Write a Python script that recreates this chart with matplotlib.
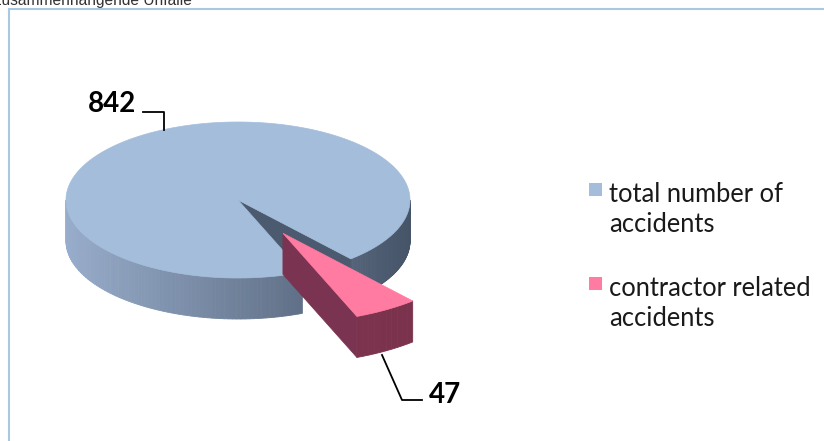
import numpy as np
import matplotlib
matplotlib.use("Agg")
import matplotlib.pyplot as plt
from matplotlib.patches import Polygon, Rectangle

# data
labels = [["total number of", "accidents"], ["contractor related", "accidents"]]
values = [842, 47]
top_colors = ["#a4bddb", "#ff7ba2"]

# pie geometry (pixel space, y pointing down)
cx, cy = 238, 200
a, b = 172, 78
depth = 41
start = 49.0           # where the small slice begins (clockwise from 3 o'clock)
explode = 0.5
explode_scale = 1.15


def arc(t0, t1, x0, y0, r=1.0, dz=0.0, n=120):
    t = np.radians(np.linspace(t0, t1, n))
    return np.column_stack([x0 + a * r * np.cos(t), y0 + b * r * np.sin(t) + dz])


def mix(c1, c2, t):
    c1 = np.array(c1) / 255.0
    c2 = np.array(c2) / 255.0
    return tuple(c1 + (c2 - c1) * t)


def wall(ax, t0, t1, x0, y0, r, light, dark, n=80):
    # outer cylinder wall split into thin strips for the shading
    ts = np.linspace(t0, t1, n + 1)
    for i in range(n):
        top = arc(ts[i], ts[i + 1], x0, y0, r, 0, 4)
        bot = arc(ts[i + 1], ts[i], x0, y0, r, depth, 4)
        tm = np.radians((ts[i] + ts[i + 1]) / 2)
        c = mix(light, dark, (np.cos(tm) + 1) / 2)
        ax.add_patch(Polygon(np.vstack([top, bot]), closed=True, fc=c, ec=c, lw=0.6))


fig = plt.figure(figsize=(8.24, 4.41), dpi=100)
ax = fig.add_axes([0, 0, 1, 1])
ax.set_xlim(0, 824)
ax.set_ylim(441, 0)
ax.axis("off")

spans = [v / sum(values) * 360 for v in values]
small0, small1 = start, start + spans[1]
main0, main1 = small1, small1 + spans[0]

# --- main slice ---
wall(ax, main0, 180, cx, cy, 1.0, (152, 173, 203), (70, 84, 104))
wall(ax, 360, main1, cx, cy, 1.0, (152, 173, 203), (70, 84, 104))
rim = arc(main1, main1, cx, cy)[0]
cut = [(cx, cy), tuple(rim), (rim[0], rim[1] + depth), (cx, cy + depth)]
ax.add_patch(Polygon(cut, closed=True, fc="#4b5a6e", ec="#4b5a6e", lw=0.5))
top = np.vstack([[cx, cy], arc(main0, main1, cx, cy, n=400)])
ax.add_patch(Polygon(top, closed=True, fc=top_colors[0], ec=top_colors[0], lw=0.5))

# --- exploded small slice ---
mid = np.radians((small0 + small1) / 2)
ex = cx + a * explode * np.cos(mid)
ey = cy + b * explode * np.sin(mid)
rim2 = arc(small1, small1, ex, ey, explode_scale)[0]
cut2 = [(ex, ey), tuple(rim2), (rim2[0], rim2[1] + depth), (ex, ey + depth)]
ax.add_patch(Polygon(cut2, closed=True, fc="#7a3350", ec="#7a3350", lw=0.5))
wall(ax, small0, small1, ex, ey, explode_scale, (128, 54, 80), (122, 50, 76), n=10)
top2 = np.vstack([[ex, ey], arc(small0, small1, ex, ey, explode_scale)])
ax.add_patch(Polygon(top2, closed=True, fc=top_colors[1], ec=top_colors[1], lw=0.5))

# --- data labels with leader lines ---
ax.plot([143, 164, 164], [112, 112, 130], color="black", lw=1.3)
ax.text(136, 112, str(values[0]), ha="right", va="baseline", fontsize=20,
        fontweight="bold", family="Lato")
ax.plot([382, 402, 422], [355, 400, 400], color="black", lw=1.3)
ax.text(429, 403, str(values[1]), ha="left", va="baseline", fontsize=20,
        fontweight="bold", family="Lato")

# --- legend ---
for i, (lines, col) in enumerate(zip(labels, top_colors)):
    y = 183 + i * 94
    ax.add_patch(Rectangle((589, y), 13, 13, fc=col, ec="none"))
    for j, line in enumerate(lines):
        ax.text(609, y + 19 + j * 30, line, ha="left", va="baseline",
                fontsize=18.4, family="Lato", color="#1a1a1a")

# frame and clipped heading
fig.add_artist(plt.Line2D([9 / 824, 1], [1 - 9 / 441] * 2, transform=fig.transFigure,
                          color="#a9c9e2", lw=1.5))
fig.add_artist(plt.Line2D([9 / 824] * 2, [0, 1 - 9 / 441], transform=fig.transFigure,
                          color="#a9c9e2", lw=1.5))
ax.text(192, 5, "Zusammenhängende Unfälle", ha="right", va="baseline",
        fontsize=11.2, family="Liberation Sans", color="#333333")

fig.savefig("out.png", dpi=100)
